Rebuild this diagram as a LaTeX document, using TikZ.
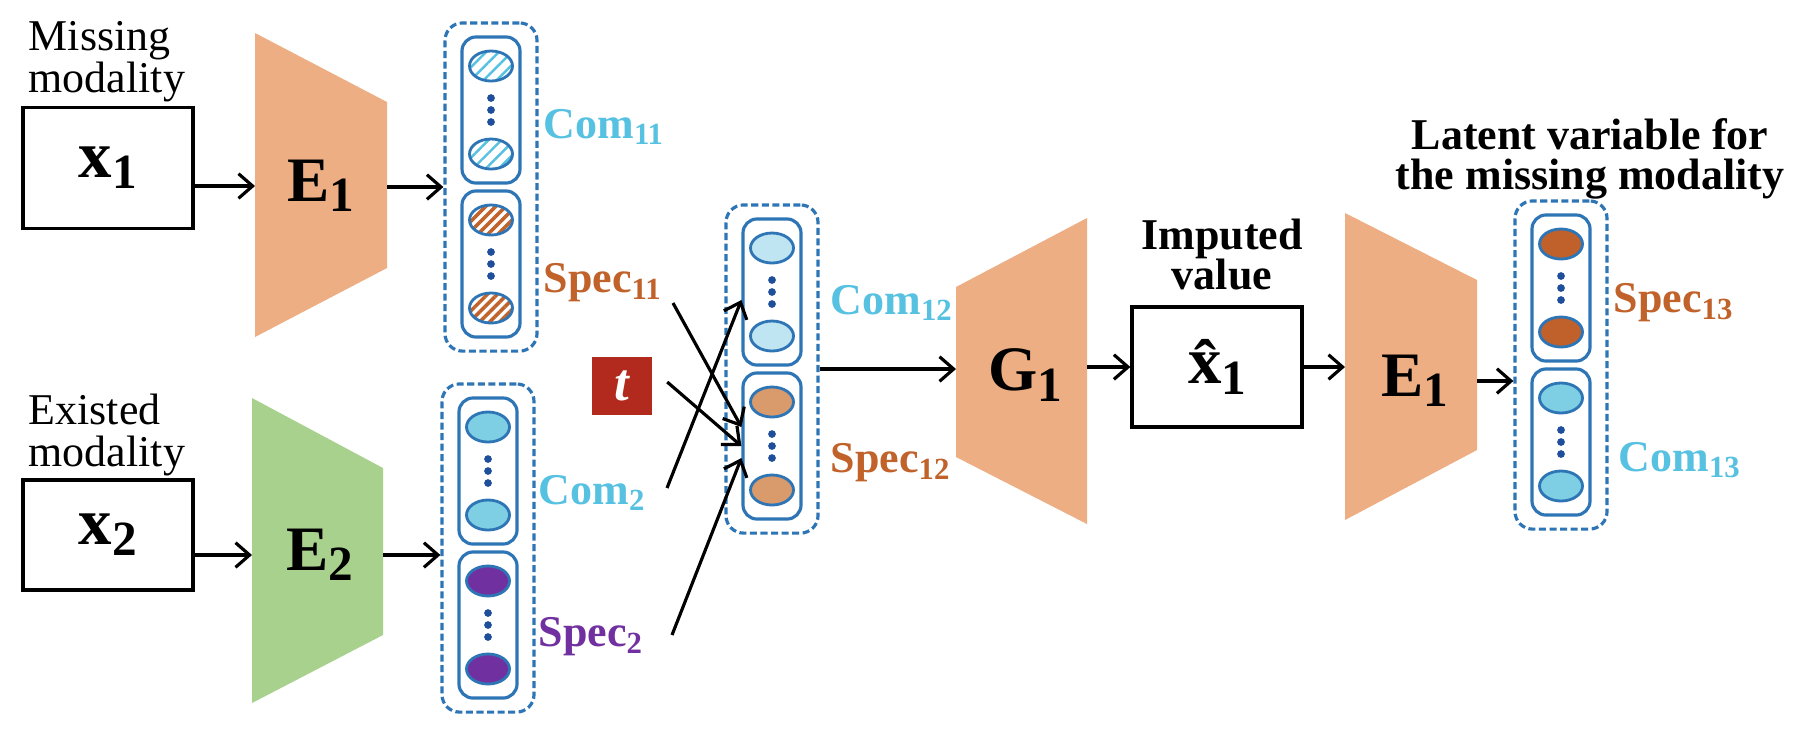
\documentclass[tikz,border=0pt]{standalone}
\usepackage{fontspec}
\setmainfont{Liberation Serif}
\usetikzlibrary{arrows.meta,shapes.geometric,patterns.meta,calc}

\definecolor{encorange}{HTML}{EDAE84}
\definecolor{encgreen}{HTML}{A9D18E}
\definecolor{boxblue}{HTML}{2E75B6}
\definecolor{dotblue}{HTML}{1F4E9A}
\definecolor{comtext}{HTML}{56C1E0}
\definecolor{spectext}{HTML}{C0622A}
\definecolor{purp}{HTML}{7030A0}
\definecolor{tred}{HTML}{B22A1E}
\definecolor{comlight}{HTML}{BFE4F2}
\definecolor{comfull}{HTML}{7ECFE3}
\definecolor{spectan}{HTML}{D99A6C}
\definecolor{specdark}{HTML}{C0602A}

\newcommand{\lowsub}[1]{\raisebox{-0.35ex}{\fontsize{14}{14}\selectfont#1}}

\begin{document}
\begin{tikzpicture}[x=0.01cm,y=-0.01cm,
    every node/.style={inner sep=0pt},
    arr/.style={-{Straight Barb[length=4pt,width=7pt]},line width=0.9pt},
    inbox/.style={draw,line width=0.9pt,minimum width=1.70cm},
    enclab/.style={font=\fontsize{18}{18}\selectfont\bfseries},
    lab/.style={font=\fontsize{12.5}{12.5}\selectfont\bfseries},
    note/.style={align=center,font=\fontsize{12.5}{11.4}\selectfont\bfseries},
    outer/.style={draw=boxblue,dash pattern=on 2pt off 1pt,rounded corners=5pt,
      line width=0.9pt,minimum width=0.92cm,minimum height=3.28cm},
    group/.style={draw=boxblue,rounded corners=4pt,line width=0.9pt,
      minimum width=0.58cm,minimum height=1.46cm},
    cell/.style={ellipse,draw=boxblue,line width=0.8pt,
      minimum width=0.43cm,minimum height=0.30cm},
    c11/.style={pattern={Lines[angle=45,distance=2.6pt,line width=0.7pt]},pattern color=comtext},
    p11/.style={pattern={Lines[angle=45,distance=2pt,line width=1pt]},pattern color=spectext},
    c12/.style={fill=comlight},
    p12/.style={fill=spectan},
    c2/.style={fill=comfull},
    p2/.style={fill=purp},
    c13/.style={fill=comfull},
    p13/.style={fill=specdark}]

  \fill[white] (0,0) rectangle (1800,732);
  \useasboundingbox (0,0) rectangle (1800,732);

  % inputs
  \node[anchor=north west,align=left,font=\fontsize{12.5}{11.9}\selectfont] (misstxt) at (28,21) {Missing\\modality};
  \node[inbox,minimum height=1.21cm] (x1) at (108,168) {\fontsize{19}{19}\selectfont\bfseries x\lowsub{1}};
  \node[anchor=north west,align=left,font=\fontsize{12.5}{11.9}\selectfont] (exsttxt) at (28,393) {Existed\\modality};
  \node[inbox,minimum height=1.10cm] (x2) at (108,535) {\fontsize{19}{19}\selectfont\bfseries x\lowsub{2}};

  % encoders and generator
  \fill[encorange] (255,33) coordinate (e1a) -- (387,102) coordinate (e1b) -- (387,268) -- (255,337) -- cycle;
  \node[enclab] (e1) at (321,186) {E\lowsub{1}};
  \fill[encgreen] (252,398) coordinate (e2a) -- (383,468) coordinate (e2b) -- (383,635) -- (252,703) -- cycle;
  \node[enclab] (e2) at (320,555) {E\lowsub{2}};
  \fill[encorange] (956,287) coordinate (g1a) -- (1087,218) coordinate (g1b) -- (1087,524) -- (956,457) -- cycle;
  \node[enclab] (g1) at (1025,375) {G\lowsub{1}};
  \fill[encorange] (1345,213) coordinate (e3a) -- (1477,280) coordinate (e3b) -- (1477,450) -- (1345,520) -- cycle;
  \node[enclab] (e3) at (1415,381) {E\lowsub{1}};

  % latent stacks
  \foreach \nm/\cx/\cy/\ft/\fb in {s1/491/187/c11/p11, s2/488/548/c2/p2,
      m/772/369/c12/p12, l/1561/365/p13/c13}{
    \node[outer] (\nm) at (\cx,\cy) {};
    \node[group] (\nm-t) at (\cx,\cy-77) {};
    \node[group] (\nm-b) at (\cx,\cy+77) {};
    \node[cell,\ft] (\nm-t1) at ($(\nm-t)+(0,-44)$) {};
    \node[cell,\ft] (\nm-t2) at ($(\nm-t)+(0,44)$) {};
    \node[cell,\fb] (\nm-b1) at ($(\nm-b)+(0,-44)$) {};
    \node[cell,\fb] (\nm-b2) at ($(\nm-b)+(0,44)$) {};
    \foreach \d in {-12,0,12}{
      \fill[dotblue] ($(\nm-t)+(0,\d)$) circle (1.1pt);
      \fill[dotblue] ($(\nm-b)+(0,\d)$) circle (1.1pt);
    }
  }

  \node[lab,text=comtext,anchor=west] (s1-com) at (543,127) {Com\textsubscript{11}};
  \node[lab,text=spectext,anchor=west] (s1-spec) at (543,283) {Spec\textsubscript{11}};
  \node[lab,text=comtext,anchor=west] (s2-com) at (538,493) {Com\textsubscript{2}};
  \node[lab,text=purp,anchor=west] (s2-spec) at (538,637) {Spec\textsubscript{2}};
  \node[lab,text=comtext,anchor=west] (m-com) at (830,303) {Com\textsubscript{12}};
  \node[lab,text=spectext,anchor=west] (m-spec) at (830,463) {Spec\textsubscript{12}};
  \node[lab,text=spectext,anchor=west] (l-spec) at (1613,303) {Spec\textsubscript{13}};
  \node[lab,text=comtext,anchor=west] (l-com) at (1618,460) {Com\textsubscript{13}};

  \node[fill=tred,minimum width=0.59cm,minimum height=0.58cm,text=white,
    font=\fontsize{15}{15}\selectfont\bfseries\itshape] (t) at (622,386) {t};

  \node[inbox,minimum height=1.20cm] (xh) at (1217,367) {\fontsize{19}{19}\selectfont\bfseries\^{x}\lowsub{1}};
  \node[note,anchor=north] (imptxt) at (1222,218) {Imputed\\value};
  \node[note,anchor=north] (lattxt) at (1590,118) {Latent variable for\\the missing modality};

  % connectors
  \coordinate (f-s11) at (673,303);
  \coordinate (f-c2) at (667,488);
  \coordinate (f-s2) at (672,635);
  \draw[arr] (x1.east |- e1) -- (e1a |- e1);
  \draw[arr] (e1b |- s1) -- (s1.west);
  \draw[arr] (x2.east |- e2) -- (e2a |- e2);
  \draw[arr] (e2b |- e2) -- (s2.west |- e2);
  \draw[arr] (f-s11) -- ([yshift=0.19cm]m-b.west);
  \draw[arr] ([xshift=0.15cm,yshift=0.04cm]t.east) -- (m-b.west);
  \draw[arr] (f-c2) -- ([yshift=-0.08cm]m-t.west);
  \draw[arr] (f-s2) -- ([yshift=-0.12cm]m-b.west);
  \draw[arr] (m.east) -- (g1a |- m);
  \draw[arr] (g1b |- xh) -- (xh.west);
  \draw[arr] (xh.east) -- (e3a |- xh);
  \draw[arr] (e3b |- e3) -- (l.west |- e3);
\end{tikzpicture}
\end{document}
